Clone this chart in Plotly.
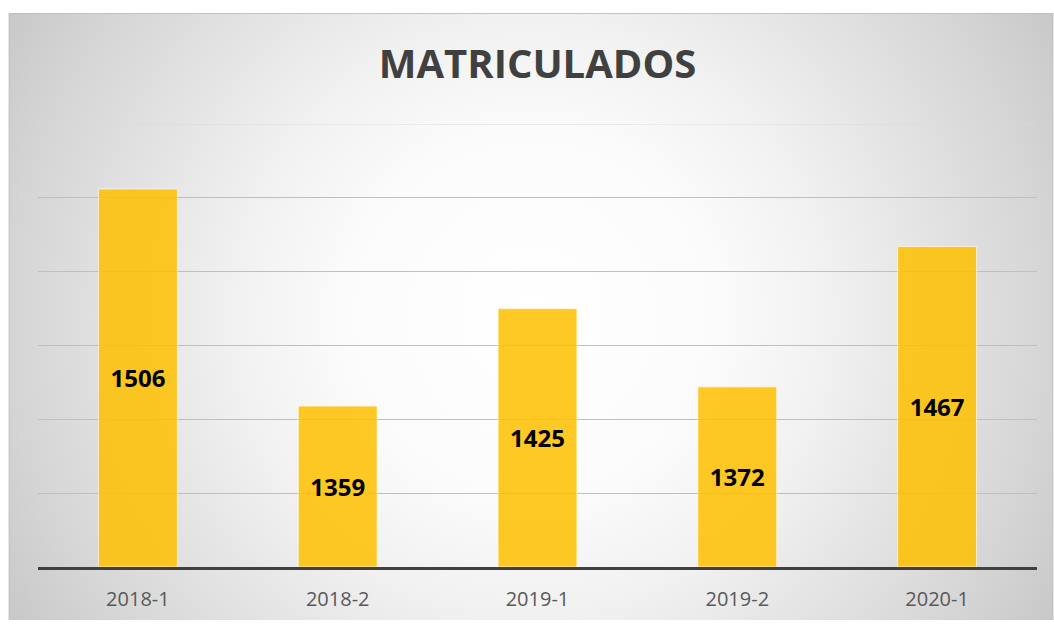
import base64
import plotly.graph_objects as go

# ---- data ----
categories = ["2018-1", "2018-2", "2019-1", "2019-2", "2020-1"]
matriculados = [1506, 1359, 1425, 1372, 1467]
title_text = "MATRICULADOS"
axis_min = 1250
axis_max = 1550
grid_step = 50

# ---- layout geometry (pixels) ----
W, H = 1054, 624
L, R, T, B = 37.5, 16.5, 124, 53.5
plot_w = W - L - R
plot_h = H - T - B
frame_x0, frame_y0 = 8, 12

# radial gradient background as an svg image
fw, fh = W - frame_x0, H - frame_y0
svg = f'''<svg xmlns="http://www.w3.org/2000/svg" width="{fw}" height="{fh}" viewBox="0 0 {fw} {fh}" preserveAspectRatio="none">
<defs><radialGradient id="g" gradientUnits="userSpaceOnUse" cx="{fw/2}" cy="{fh*0.5}" r="620">
<stop offset="0" stop-color="#ffffff"/>
<stop offset="0.3" stop-color="#fbfbfb"/>
<stop offset="0.48" stop-color="#f1f1f1"/>
<stop offset="0.85" stop-color="#d4d4d4"/>
<stop offset="1" stop-color="#c6c6c6"/>
</radialGradient></defs>
<rect x="0" y="0" width="{fw}" height="{fh}" fill="url(#g)"/>
<rect x="0.5" y="0.5" width="{fw-1}" height="{fh+5}" fill="none" stroke="#bdbdbd" stroke-width="1"/>
</svg>'''
src = "data:image/svg+xml;base64," + base64.b64encode(svg.encode()).decode()

fig = go.Figure()
fig.add_trace(go.Bar(
    x=categories,
    y=[v - axis_min for v in matriculados],
    base=axis_min,
    text=[str(v) for v in matriculados],
    textposition="inside",
    insidetextanchor="middle",
    textangle=0,
    textfont=dict(family="Open Sans", size=24, color="#000000", weight="bold"),
    marker=dict(color="#FFC000", opacity=0.85,
                line=dict(color="rgba(255,255,255,0.7)", width=1)),
    width=0.395,
    hoverinfo="skip",
))

fig.update_layout(
    width=W, height=H,
    margin=dict(l=L, r=R, t=T, b=B, pad=0),
    paper_bgcolor="#ffffff",
    plot_bgcolor="rgba(0,0,0,0)",
    showlegend=False,
    title=dict(text=title_text, x=0.51, xanchor="center",
               y=1 - 64 / H, yanchor="middle", yref="container",
               font=dict(family="Open Sans", size=40, color="#404040", weight="bold")),
    xaxis=dict(type="category", showgrid=False, showline=True, linecolor="#404040", linewidth=3,
               ticks="", ticklabelstandoff=12,
               tickfont=dict(family="Open Sans", size=20, color="#595959"),
               zeroline=False, fixedrange=True),
    yaxis=dict(range=[axis_min, axis_max], dtick=grid_step, tick0=axis_min,
               showticklabels=False, showgrid=True, gridcolor="#bfbfbf", gridwidth=1,
               zeroline=False, showline=False, ticks="", fixedrange=True),
    shapes=[dict(type="line", xref="paper", yref="y", x0=0, x1=1,
                 y0=axis_max, y1=axis_max, line=dict(color="#d9d9d9", width=1),
                 layer="below")],
    images=[dict(source=src, xref="paper", yref="paper",
                 x=(frame_x0 - L) / plot_w, y=(H - B - frame_y0) / plot_h,
                 sizex=fw / plot_w, sizey=fh / plot_h,
                 xanchor="left", yanchor="top", sizing="stretch", layer="below")],
)

fig.write_html("out.html", config={"displayModeBar": False},
               post_script="document.body.style.margin='0';document.body.style.padding='0';")
